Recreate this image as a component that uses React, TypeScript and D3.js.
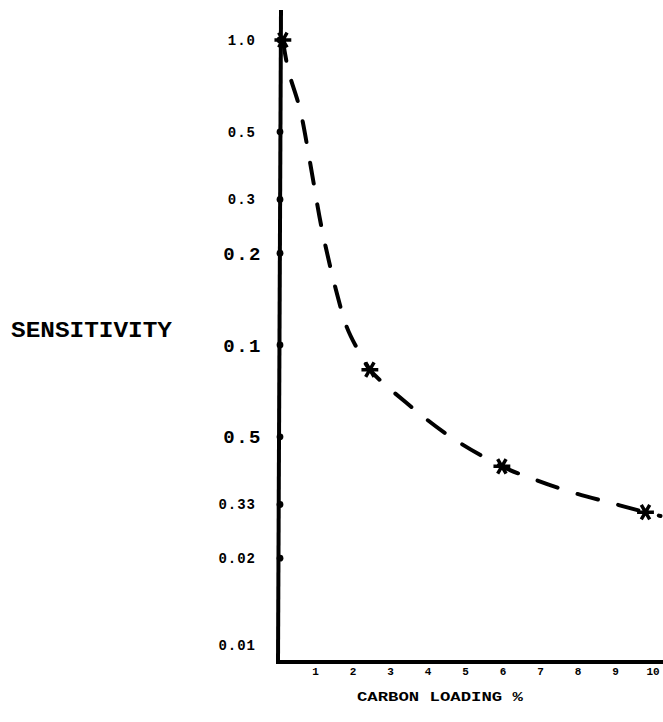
import React from "react";
import * as d3 from "d3";

// y axis (log) ticks and the labels as printed on the sheet
const yTicks = [1, 0.5, 0.3, 0.2, 0.1, 0.05, 0.03, 0.02, 0.01];
const yLabels = ["1.0", "0.5", "0.3", "0.2", "0.1", "0.5", "0.33", "0.02", "0.01"];
const xTicks = [1, 2, 3, 4, 5, 6, 7, 8, 9, 10];

// dashed fitted curve
const curveX = [0.13, 0.27, 0.59, 0.85, 1.17, 1.55, 1.84, 2.16, 2.45, 3.4, 4.6, 5.97, 6.75, 7.8, 8.9, 9.8, 10.2];
const curveY = [1.0, 0.8, 0.59, 0.4, 0.24, 0.151, 0.114, 0.095, 0.083, 0.065, 0.05, 0.04, 0.0366, 0.033, 0.0303, 0.0283, 0.0275];

// measured points (x marks)
const pointX = [0.13, 2.45, 5.97, 9.8];
const pointY = [1.0, 0.083, 0.04, 0.0283];

const W = 663;
const H = 722;

export default function App() {
  const x = d3.scaleLinear().domain([0, 10]).range([278, 653]);
  const y = d3.scaleLog().domain([1, 0.01]).range([40, 650]);

  const axisX = 280;
  const axisTop = 10;
  const axisBottom = 662;

  const line = d3
    .line<number>()
    .x((_, i) => x(curveX[i]))
    .y((d) => y(d))
    .curve(d3.curveCatmullRom);

  const star = d3.symbol(d3.symbolAsterisk, 200)();
  const bigTicks = new Set([0.2, 0.1, 0.05]);
  const font = "'Liberation Mono', 'DejaVu Sans Mono', monospace";

  return (
    <svg
      width={W}
      height={H}
      style={{ position: "absolute", left: 0, top: 0, background: "#fff" }}
    >
      {/* axes */}
      <line x1={axisX + 1} y1={axisTop} x2={axisX - 2} y2={axisBottom} stroke="#000" strokeWidth={4} />
      <line x1={axisX - 4} y1={axisBottom} x2={W} y2={axisBottom} stroke="#000" strokeWidth={4} />

      {/* y ticks: dots on the axis */}
      {yTicks.map((t, i) =>
        t > 0.01 ? <circle key={"d" + i} cx={axisX} cy={y(t)} r={3.4} fill="#000" /> : null
      )}
      {yTicks.map((t, i) => {
        const big = bigTicks.has(t);
        return (
          <text
            key={"yl" + i}
            x={big ? 262 : 256}
            y={t === 0.01 ? 645 : y(t)}
            dy="0.35em"
            textAnchor="end"
            fontFamily={font}
            fontWeight="bold"
            fontSize={big ? 19 : 14}
            letterSpacing={big ? 1.5 : 1}
          >
            {yLabels[i]}
          </text>
        );
      })}

      {/* x tick labels */}
      {xTicks.map((t) => (
        <text
          key={"xl" + t}
          x={x(t)}
          y={671}
          dy="0.35em"
          textAnchor="middle"
          fontFamily={font}
          fontWeight="bold"
          fontSize={11}
        >
          {t}
        </text>
      ))}

      {/* axis titles */}
      <text
        x={11}
        y={329}
        dy="0.35em"
        fontFamily={font}
        fontWeight="bold"
        fontSize={22}
        textLength={161}
        lengthAdjust="spacingAndGlyphs"
      >
        SENSITIVITY
      </text>
      <text
        x={357}
        y={696}
        dy="0.35em"
        fontFamily={font}
        fontWeight="bold"
        fontSize={13}
        textLength={166}
        lengthAdjust="spacingAndGlyphs"
      >
        CARBON LOADING %
      </text>

      {/* dashed curve */}
      <path
        d={line(curveY) ?? ""}
        fill="none"
        stroke="#000"
        strokeWidth={4}
        strokeDasharray="21 21"
        strokeLinecap="round"
      />

      {/* x marks */}
      {pointX.map((px, i) => (
        <path
          key={"p" + i}
          d={star ?? ""}
          transform={`translate(${x(px)},${y(pointY[i])}) rotate(90)`}
          fill="none"
          stroke="#000"
          strokeWidth={3.5}
        />
      ))}
    </svg>
  );
}
